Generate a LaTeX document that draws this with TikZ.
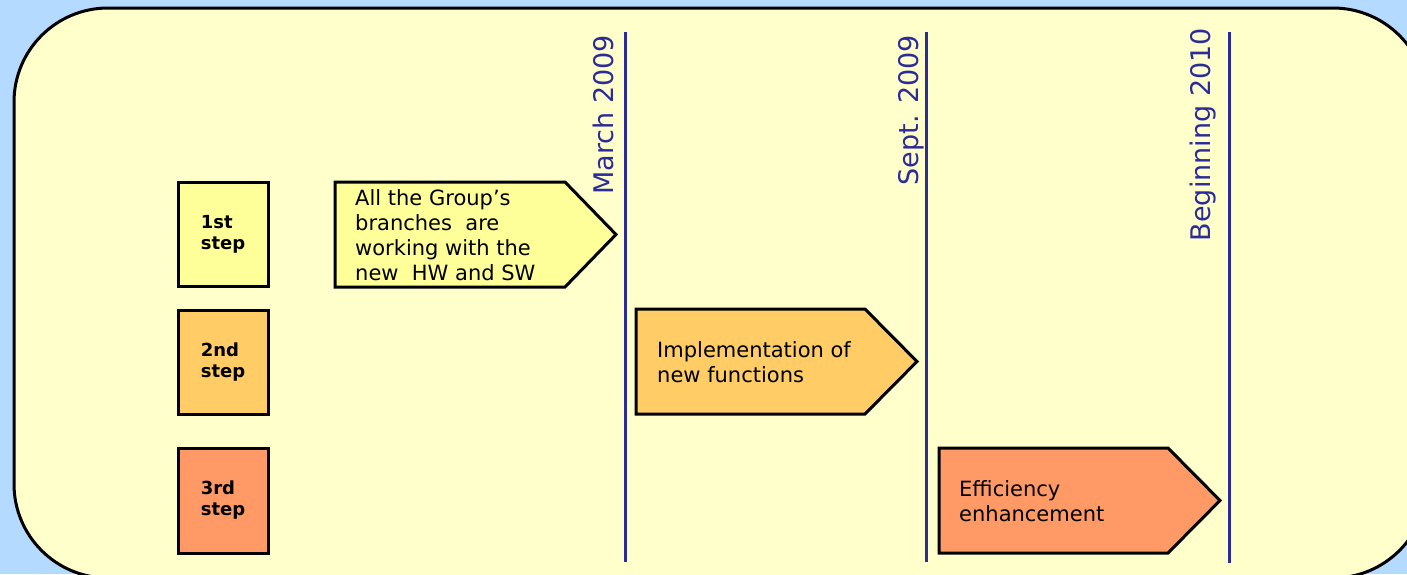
\documentclass[tikz,border=0pt]{standalone}
\usepackage{fontspec}
\setmainfont{DejaVu Sans}
\definecolor{sky}{HTML}{B4DAFF}
\definecolor{panel}{HTML}{FFFFCC}
\definecolor{stepone}{HTML}{FFFF99}
\definecolor{steptwo}{HTML}{FFCC66}
\definecolor{stepthree}{HTML}{FF9966}
\definecolor{navy}{HTML}{2B2B99}
\begin{document}
\begin{tikzpicture}[x=1pt, y=-1pt,
    stepbox/.style ={draw, line width=3pt, minimum width=90pt, minimum height=104pt, inner sep=0pt, align=left, font=\bfseries\fontsize{18}{21}\selectfont},
    phase/.style ={draw, line width=3pt},
    phasetext/.style ={anchor=west, inner sep=0pt, align=left, font=\fontsize{21}{25}\selectfont},
    milestone/.style ={draw=navy, line width=3pt},
    datelabel/.style ={rotate=90, anchor=base east, inner sep=0pt, text=navy, font=\fontsize{27}{32}\selectfont}]
   \useasboundingbox (0,0) rectangle (1407,574);
   \fill[sky] (0,0) rectangle (1407,574);
   \draw[line width=3pt, fill=panel, rounded corners=94pt] (14,8) rectangle (1427,578);
   \node[stepbox, fill=stepone] (s1) at (223,234) {1st\\step};
   \node[stepbox, fill=steptwo] (s2) at (223,362) {2nd\\step};
   \node[stepbox, fill=stepthree, minimum height=105pt] (s3) at (223,500.5) {3rd\\step};
   \draw[phase, fill=stepone] (335,182) -- (565,182) -- (616,234.5) -- (565,287) -- (335,287) -- cycle;
   \draw[phase, fill=steptwo] (636,309) -- (865,309) -- (917,361.5) -- (865,414) -- (636,414) -- cycle;
   \draw[phase, fill=stepthree] (939,448) -- (1168,448) -- (1220,500.5) -- (1168,553) -- (939,553) -- cycle;
   \node[phasetext] (p1) at (355,235) {All the Group’s\\branches~ are\\working with the\\new~ HW and SW};
   \node[phasetext] (p2) at (657,362) {Implementation of\\new functions};
   \node[phasetext] (p3) at (959,501) {Efficiency\\enhancement};
   \coordinate (m1t) at (625,32);
   \coordinate (m1b) at (625,562);
   \coordinate (m2t) at (926,32);
   \coordinate (m2b) at (926,562);
   \coordinate (m3t) at (1229,32);
   \coordinate (m3b) at (1229,563);
   \draw[milestone] (m1t) -- (m1b);
   \draw[milestone] (m2t) -- (m2b);
   \draw[milestone] (m3t) -- (m3b);
   \node[datelabel] (d1) at (613,35) {March 2009};
   \node[datelabel] (d2) at (918,35) {Sept. 2009};
   \node[datelabel] (d3) at (1210,28) {Beginning 2010};
\end{tikzpicture}
\end{document}
